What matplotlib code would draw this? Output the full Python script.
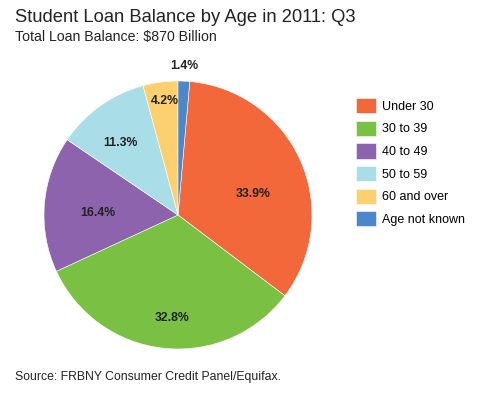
import numpy as np
import matplotlib
matplotlib.use('Agg')
import matplotlib.pyplot as plt

plt.rcParams['font.family'] = ['Liberation Sans', 'DejaVu Sans']

LABELS = ['Under 30', '30 to 39', '40 to 49', '50 to 59', '60 and over', 'Age not known']
SHARES = [33.9, 32.8, 16.4, 11.3, 4.2, 1.4]
COLORS = ['#F2683A', '#7AC143', '#8C63AC', '#A9DDE8', '#FDD06F', '#4B87C9']
# where each percent label sits: fraction of radius, and a small turn (deg) off the wedge middle
LABEL_DIST = [0.58, 0.77, 0.60, 0.69, 0.86, 1.11]
LABEL_TURN = [-8, 3, 3, 3, -1, 0]

W, H = 478, 393
fig = plt.figure(figsize=(W / 100, H / 100), dpi=100)

fig.text(15 / W, 1 - 17 / H, 'Student Loan Balance by Age in 2011: Q3',
         fontsize=13.2, color='#222222', va='center', ha='left')
fig.text(15 / W, 1 - 37 / H, 'Total Loan Balance: $870 Billion',
         fontsize=10.2, color='#222222', va='center', ha='left')
fig.text(15 / W, 1 - 377 / H, 'Source: FRBNY Consumer Credit Panel/Equifax.',
         fontsize=8.8, color='#222222', va='center', ha='left')

ax = fig.add_axes([44 / W, 44 / H, 268 / W, 268 / H])
start = 90 - SHARES[-1] / 100 * 360
wedges, _ = ax.pie(SHARES, colors=COLORS, startangle=start, counterclock=False,
                   wedgeprops=dict(linewidth=0.4, edgecolor='white'))
ax.set_xlim(-1, 1)
ax.set_ylim(-1, 1)
ax.set_aspect('equal')

for w, s, d, t in zip(wedges, SHARES, LABEL_DIST, LABEL_TURN):
    ang = np.deg2rad((w.theta1 + w.theta2) / 2 + t)
    ax.text(d * np.cos(ang), d * np.sin(ang), f'{s:.1f}%', ha='center', va='center',
            fontsize=8.8, fontweight='bold', color='#222222', clip_on=False)

fig.legend(wedges, LABELS, loc='upper left', bbox_to_anchor=(346 / W, 1 - 88 / H),
           frameon=False, fontsize=9, handlelength=1.6, handleheight=1.5,
           labelspacing=0.59, handletextpad=0.5, borderpad=0.3)

fig.savefig('out.png', dpi=100)
